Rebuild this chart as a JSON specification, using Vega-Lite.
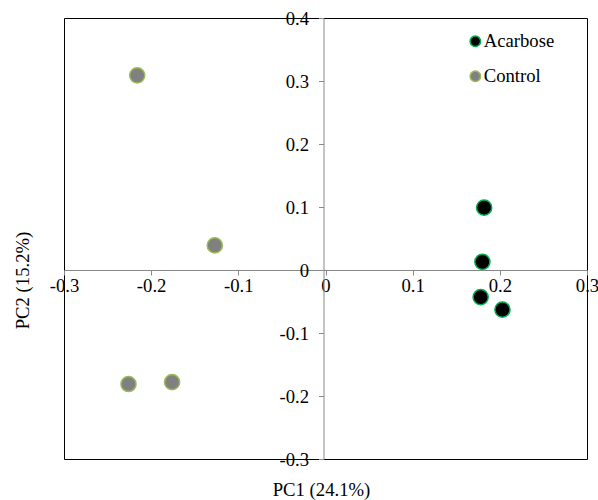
{
  "$schema": "https://vega.github.io/schema/vega-lite/v6.json",
  "width": 523,
  "height": 441,
  "autosize": "none",
  "padding": {"left": 64, "top": 18, "right": 11, "bottom": 41},
  "background": "white",
  "config": {
    "view": {"stroke": "black", "strokeWidth": 1},
    "font": "Liberation Serif",
    "axis": {"labelFont": "Liberation Serif", "titleFont": "Liberation Serif"},
    "legend": {"labelFont": "Liberation Serif", "titleFont": "Liberation Serif"}
  },
  "data": {
    "values": [
      {"group": "Control", "pc1": -0.216, "pc2": 0.309},
      {"group": "Control", "pc1": -0.127, "pc2": 0.039},
      {"group": "Control", "pc1": -0.226, "pc2": -0.181},
      {"group": "Control", "pc1": -0.176, "pc2": -0.178},
      {"group": "Acarbose", "pc1": 0.182, "pc2": 0.099},
      {"group": "Acarbose", "pc1": 0.180, "pc2": 0.013},
      {"group": "Acarbose", "pc1": 0.178, "pc2": -0.043},
      {"group": "Acarbose", "pc1": 0.203, "pc2": -0.063}
    ]
  },
  "mark": {"type": "circle", "size": 230, "opacity": 1, "strokeWidth": 1.5},
  "encoding": {
    "x": {
      "field": "pc1", "type": "quantitative",
      "scale": {"domain": [-0.3, 0.3], "nice": false, "zero": false},
      "axis": {
        "orient": "bottom", "offset": -189,
        "values": [-0.3, -0.2, -0.1, 0, 0.1, 0.2, 0.3],
        "labelExpr": "'' + datum.value",
        "grid": false, "domainColor": "#888888", "tickColor": "#888888",
        "tickSize": 5, "labelPadding": 1, "labelFontSize": 18.7, "labelColor": "black",
        "labelFont": "Liberation Serif",
        "labelFlush": false, "labelOverlap": false,
        "title": "PC1 (24.1%)", "titleFontSize": 18.7, "titleFontWeight": "normal",
        "titleFont": "Liberation Serif",
        "titleColor": "black", "titleX": 257, "titleY": 219, "titleBaseline": "middle"
      }
    },
    "y": {
      "field": "pc2", "type": "quantitative",
      "scale": {"domain": [-0.3, 0.4], "nice": false, "zero": false},
      "axis": {
        "orient": "left", "offset": -259.5,
        "values": [-0.3, -0.2, -0.1, 0, 0.1, 0.2, 0.3, 0.4],
        "labelExpr": "'' + datum.value",
        "grid": false, "domainColor": "#888888", "tickColor": "#888888",
        "tickSize": 5, "labelPadding": 10, "labelFontSize": 18.7, "labelColor": "black",
        "labelFont": "Liberation Serif",
        "labelFlush": false, "labelOverlap": false,
        "title": "PC2 (15.2%)", "titleFontSize": 18.7, "titleFontWeight": "normal",
        "titleFont": "Liberation Serif",
        "titleColor": "black", "titleAngle": -90, "titleX": -301, "titleY": 262,
        "titleBaseline": "middle", "titleAlign": "center"
      }
    },
    "fill": {
      "field": "group", "type": "nominal",
      "scale": {"domain": ["Acarbose", "Control"], "range": ["#000000", "#808080"]},
      "legend": {
        "title": null, "orient": "none", "legendX": 402, "legendY": 14,
        "labelFontSize": 18.7, "labelColor": "black", "labelFont": "Liberation Serif",
        "symbolSize": 110,
        "symbolStrokeWidth": 1.5, "rowPadding": 15, "labelOffset": -1, "symbolType": "circle"
      }
    },
    "stroke": {
      "field": "group", "type": "nominal",
      "scale": {"domain": ["Acarbose", "Control"], "range": ["#00b050", "#9bbb59"]},
      "legend": {
        "title": null, "orient": "none", "legendX": 402, "legendY": 14,
        "labelFontSize": 18.7, "labelColor": "black", "labelFont": "Liberation Serif",
        "symbolSize": 110,
        "symbolStrokeWidth": 1.5, "rowPadding": 15, "labelOffset": -1, "symbolType": "circle"
      }
    }
  }
}
